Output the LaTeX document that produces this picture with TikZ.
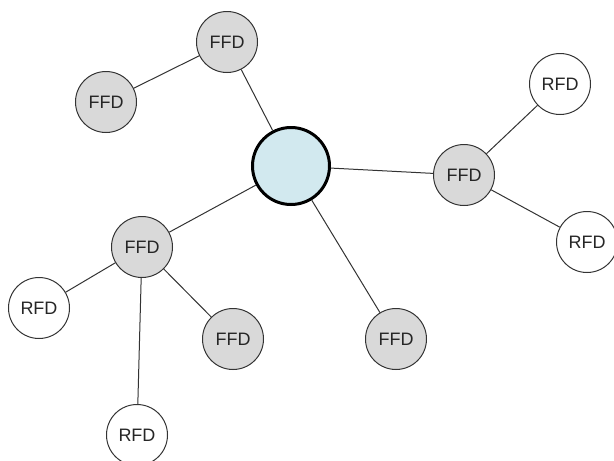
\documentclass[tikz,border=0pt]{standalone}
\usepackage{fontspec}
\setmainfont{Liberation Sans}
\definecolor{devgray}{HTML}{D9D9D9}
\definecolor{hubblue}{HTML}{D2E9EF}
\definecolor{edgegray}{HTML}{333333}
\begin{document}
\begin{tikzpicture}[x=1pt,y=-1pt,
  dev/.style={circle,draw=edgegray,line width=1pt,minimum size=61pt,inner sep=0pt,font=\fontsize{18}{18}\selectfont,text=black!85},
  ffd/.style={dev,fill=devgray},
  rfd/.style={dev,fill=white},
  hub/.style={circle,draw=black,line width=3pt,fill=hubblue,minimum size=77pt,inner sep=0pt},
  link/.style={draw=edgegray,line width=1pt}]
\useasboundingbox (0,0) rectangle (614,461);
% coordinator
\node[hub] (c) at (291,166) {};
% full-function devices
\node[ffd] (f1) at (227,42) {FFD};
\node[ffd] (f2) at (106,102) {FFD};
\node[ffd] (f3) at (464,175) {FFD};
\node[ffd] (f4) at (142,247) {FFD};
\node[ffd] (f5) at (233,339) {FFD};
\node[ffd] (f6) at (396,339) {FFD};
% reduced-function devices
\node[rfd] (r1) at (560,84) {RFD};
\node[rfd] (r2) at (587,242) {RFD};
\node[rfd] (r3) at (39,308) {RFD};
\node[rfd] (r4) at (137,435) {RFD};
% links
\path[link] (c) -- (f1);
\path[link] (f1) -- (f2);
\path[link] (c) -- (f3);
\path[link] (f3) -- (r1);
\path[link] (f3) -- (r2);
\path[link] (c) -- (f4);
\path[link] (c) -- (f6);
\path[link] (f4) -- (r3);
\path[link] (f4) -- (f5);
\path[link] (f4) -- (r4);
\end{tikzpicture}
\end{document}
